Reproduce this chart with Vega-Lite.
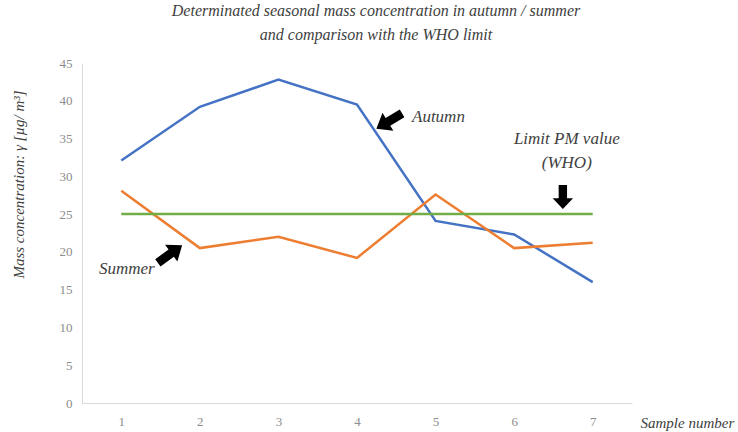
{
  "$schema": "https://vega.github.io/schema/vega-lite/v6.json",
  "width": 550,
  "height": 340,
  "autosize": "none",
  "padding": {"left": 82, "top": 63, "right": 106, "bottom": 29},
  "background": "white",
  "title": {
    "text": ["Determinated seasonal mass concentration in autumn / summer", "and comparison with the WHO limit"],
    "font": "Liberation Serif",
    "fontStyle": "italic",
    "fontWeight": "normal",
    "fontSize": 16,
    "color": "#404040",
    "anchor": "middle",
    "frame": "group",
    "dx": 19,
    "offset": 14,
    "lineHeight": 24
  },
  "config": {
    "view": {"stroke": null},
    "axis": {
      "grid": false,
      "ticks": false,
      "domainColor": "#d9d9d9",
      "labelFont": "Liberation Serif",
      "labelColor": "#8c8c8c",
      "labelFontSize": 13,
      "labelOverlap": false,
      "titleFont": "Liberation Serif",
      "titleFontStyle": "italic",
      "titleFontWeight": "normal",
      "titleColor": "#404040",
      "titleFontSize": 15
    }
  },
  "datasets": {
    "series": [
      {"sample": 1, "value": 32.1, "series": "Autumn"},
      {"sample": 2, "value": 39.2, "series": "Autumn"},
      {"sample": 3, "value": 42.8, "series": "Autumn"},
      {"sample": 4, "value": 39.5, "series": "Autumn"},
      {"sample": 5, "value": 24.1, "series": "Autumn"},
      {"sample": 6, "value": 22.3, "series": "Autumn"},
      {"sample": 7, "value": 16.0, "series": "Autumn"},
      {"sample": 1, "value": 28.1, "series": "Summer"},
      {"sample": 2, "value": 20.5, "series": "Summer"},
      {"sample": 3, "value": 22.0, "series": "Summer"},
      {"sample": 4, "value": 19.2, "series": "Summer"},
      {"sample": 5, "value": 27.6, "series": "Summer"},
      {"sample": 6, "value": 20.5, "series": "Summer"},
      {"sample": 7, "value": 21.2, "series": "Summer"},
      {"sample": 1, "value": 25, "series": "Limit"},
      {"sample": 2, "value": 25, "series": "Limit"},
      {"sample": 3, "value": 25, "series": "Limit"},
      {"sample": 4, "value": 25, "series": "Limit"},
      {"sample": 5, "value": 25, "series": "Limit"},
      {"sample": 6, "value": 25, "series": "Limit"},
      {"sample": 7, "value": 25, "series": "Limit"}
    ],
    "labels": [
      {"x": 4.70, "y": 37.85, "label": "Autumn", "pos": "left"},
      {"x": 1.07, "y": 17.74, "label": "Summer", "pos": "center"},
      {"x": 6.67, "y": 34.94, "label": "Limit PM value", "pos": "center"},
      {"x": 6.67, "y": 31.76, "label": "(WHO)", "pos": "center"}
    ],
    "arrows": [
      {"x": 4.41, "y": 37.32, "label": "Autumn"},
      {"x": 1.62, "y": 19.72, "label": "Summer"},
      {"x": 6.62, "y": 27.26, "label": "Limit"}
    ]
  },
  "layer": [
    {
      "data": {"name": "series"},
      "mark": {"type": "line", "strokeWidth": 2.5},
      "encoding": {
        "x": {
          "field": "sample",
          "type": "quantitative",
          "scale": {"domain": [0.5, 7.5], "nice": false, "zero": false},
          "axis": {
            "values": [1, 2, 3, 4, 5, 6, 7],
            "tickCount": 20,
            "format": "d",
            "labelPadding": 12,
            "title": "Sample number",
            "titleX": 558,
            "titleY": 19,
            "titleAlign": "left",
            "titleBaseline": "middle",
            "titleAngle": 0
          }
        },
        "y": {
          "field": "value",
          "type": "quantitative",
          "scale": {"domain": [0, 45], "nice": false},
          "axis": {
            "values": [0, 5, 10, 15, 20, 25, 30, 35, 40, 45],
            "tickCount": 20,
            "format": "d",
            "labelOverlap": false,
            "labelFlush": false,
            "labelPadding": 10,
            "title": "Mass concentration: γ [µg/ m³]",
            "titleX": -64,
            "titleY": 121,
            "titleAlign": "center",
            "titleBaseline": "middle",
            "titleAngle": -90
          }
        },
        "color": {
          "field": "series",
          "type": "nominal",
          "scale": {"domain": ["Autumn", "Summer", "Limit"], "range": ["#4472C4", "#ED7D31", "#70AD47"]},
          "legend": null
        },
        "detail": {"field": "series"}
      }
    },
    {
      "data": {"name": "labels"},
      "transform": [{"filter": "datum.pos == 'left'"}],
      "mark": {"type": "text", "align": "left", "baseline": "middle", "font": "Liberation Serif", "fontStyle": "italic", "fontSize": 17, "color": "#404040"},
      "encoding": {
        "x": {"field": "x", "type": "quantitative"},
        "y": {"field": "y", "type": "quantitative"},
        "text": {"field": "label"}
      }
    },
    {
      "data": {"name": "labels"},
      "transform": [{"filter": "datum.pos == 'center'"}],
      "mark": {"type": "text", "align": "center", "baseline": "middle", "font": "Liberation Serif", "fontStyle": "italic", "fontSize": 17, "color": "#404040"},
      "encoding": {
        "x": {"field": "x", "type": "quantitative"},
        "y": {"field": "y", "type": "quantitative"},
        "text": {"field": "label"}
      }
    },
    {
      "data": {"name": "arrows"},
      "transform": [{"filter": "datum.label == 'Autumn'"}],
      "mark": {"type": "point", "filled": true, "color": "black", "opacity": 1, "size": 900, "angle": 149,
        "shape": "M-1,-0.3L0.1,-0.3L0.1,-0.7L1,0L0.1,0.7L0.1,0.3L-1,0.3Z"},
      "encoding": {
        "x": {"field": "x", "type": "quantitative"},
        "y": {"field": "y", "type": "quantitative"}
      }
    },
    {
      "data": {"name": "arrows"},
      "transform": [{"filter": "datum.label == 'Summer'"}],
      "mark": {"type": "point", "filled": true, "color": "black", "opacity": 1, "size": 900, "angle": 324,
        "shape": "M-1,-0.3L0.1,-0.3L0.1,-0.7L1,0L0.1,0.7L0.1,0.3L-1,0.3Z"},
      "encoding": {
        "x": {"field": "x", "type": "quantitative"},
        "y": {"field": "y", "type": "quantitative"}
      }
    },
    {
      "data": {"name": "arrows"},
      "transform": [{"filter": "datum.label == 'Limit'"}],
      "mark": {"type": "point", "filled": true, "color": "black", "opacity": 1, "size": 576, "angle": 90,
        "shape": "M-1,-0.35L0.1,-0.35L0.1,-0.85L1,0L0.1,0.85L0.1,0.35L-1,0.35Z"},
      "encoding": {
        "x": {"field": "x", "type": "quantitative"},
        "y": {"field": "y", "type": "quantitative"}
      }
    }
  ]
}
